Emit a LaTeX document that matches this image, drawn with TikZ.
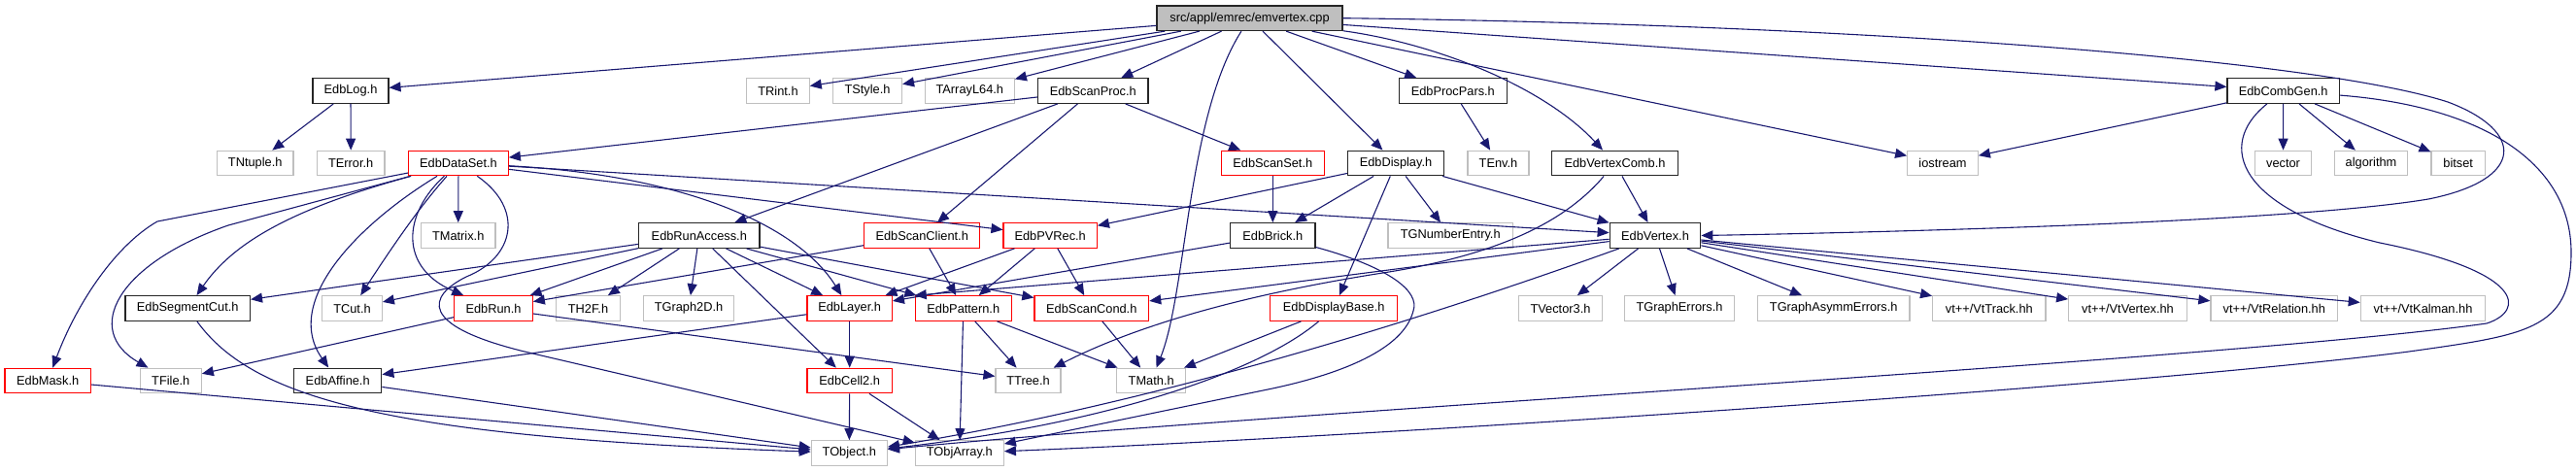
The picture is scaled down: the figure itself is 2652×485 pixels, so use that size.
\documentclass[tikz,border=0pt]{standalone}
\usepackage{fontspec}
\setmainfont{Liberation Sans}
\usepackage{xcolor}
\usepackage{tikz}
\usetikzlibrary{arrows.meta}
\definecolor{edgeblue}{HTML}{191970}
\definecolor{extgray}{HTML}{BFBFBF}
\tikzset{
    hdr/.style={rectangle, line width=1.2pt, minimum height=25.5pt, inner sep=0pt,
        font=\fontsize{12.8}{14}\selectfont},
    docfile/.style={hdr, draw=black!85, line width=1.4pt},
    extfile/.style={hdr, draw=extgray},
    redfile/.style={hdr, draw=red},
    rootfile/.style={hdr, draw=black!85, line width=1.4pt, fill=extgray},
    dep/.style={draw=edgeblue, line width=1.1pt, -{Triangle[length=12pt,width=10pt]}}
}

\begin{document}
\begin{tikzpicture}[x=1pt, y=-1pt]
    \useasboundingbox (0,0) rectangle (2652,485);
    \node[rootfile, minimum width=191] (root) at (1286.5,18.7) {src/appl/emrec/emvertex.cpp};
    % row 1
    \node[docfile, minimum width=77.7] (log) at (361,93.5) {EdbLog.h};
    \node[extfile, minimum width=64.3] (trint) at (801,93.5) {TRint.h};
    \node[extfile, minimum width=71] (tstyle) at (893,93.5) {TStyle.h};
    \node[extfile, minimum width=92] (tarray) at (998.3,93.5) {TArrayL64.h};
    \node[docfile, minimum width=113.3] (scanproc) at (1125.3,93.5) {EdbScanProc.h};
    \node[docfile, minimum width=111] (procpars) at (1495.8,93.5) {EdbProcPars.h};
    \node[docfile, minimum width=115.3] (combgen) at (2350.7,93.5) {EdbCombGen.h};
    % row 2
    \node[extfile, minimum width=78.7] (tntuple) at (262.7,168) {TNtuple.h};
    \node[extfile, minimum width=69.7] (terror) at (361.2,168) {TError.h};
    \node[redfile, minimum width=102.6] (dataset) at (472,168) {EdbDataSet.h};
    \node[redfile, minimum width=106] (scanset) at (1310.3,168) {EdbScanSet.h};
    \node[docfile, minimum width=98.6] (display) at (1437,168) {EdbDisplay.h};
    \node[extfile, minimum width=63] (tenv) at (1542.5,168) {TEnv.h};
    \node[docfile, minimum width=129.6] (vcomb) at (1662.5,168) {EdbVertexComb.h};
    \node[extfile, minimum width=72.6] (iostream) at (2000,168) {iostream};
    \node[extfile, minimum width=57.6] (vector) at (2350.5,168) {vector};
    \node[extfile, minimum width=74.6] (algorithm) at (2441,168) {algorithm};
    \node[extfile, minimum width=55.3] (bitset) at (2530.7,168) {bitset};
    % row 3
    \node[extfile, minimum width=76.7] (tmatrix) at (471.7,242.5) {TMatrix.h};
    \node[docfile, minimum width=124.3] (runaccess) at (719.8,242.5) {EdbRunAccess.h};
    \node[redfile, minimum width=119] (scanclient) at (949.2,242.5) {EdbScanClient.h};
    \node[redfile, minimum width=96.3] (pvrec) at (1081.2,242.5) {EdbPVRec.h};
    \node[docfile, minimum width=87.3] (brick) at (1310.3,242.5) {EdbBrick.h};
    \node[extfile, minimum width=128.3] (tgnum) at (1493.2,242.5) {TGNumberEntry.h};
    \node[docfile, minimum width=93.4] (vertex) at (1704,242.5) {EdbVertex.h};
    % row 4
    \node[docfile, minimum width=128.3] (segcut) at (193.2,317.5) {EdbSegmentCut.h};
    \node[extfile, minimum width=61.6] (tcut) at (362.5,317.5) {TCut.h};
    \node[redfile, minimum width=80.6] (run) at (508,317.5) {EdbRun.h};
    \node[extfile, minimum width=65.6] (th2f) at (605.5,317.5) {TH2F.h};
    \node[extfile, minimum width=93.7] (tgraph2d) at (709,317.5) {TGraph2D.h};
    \node[redfile, minimum width=87.3] (layer) at (874.7,317.5) {EdbLayer.h};
    \node[redfile, minimum width=99] (pattern) at (991.8,317.5) {EdbPattern.h};
    \node[redfile, minimum width=117.7] (scancond) at (1123.8,317.5) {EdbScanCond.h};
    \node[redfile, minimum width=131] (dispbase) at (1373.2,317.5) {EdbDisplayBase.h};
    \node[extfile, minimum width=85.6] (tvector3) at (1606.5,317.5) {TVector3.h};
    \node[extfile, minimum width=112.3] (tgerr) at (1729,317.5) {TGraphErrors.h};
    \node[extfile, minimum width=156.7] (tgasym) at (1887.7,317.5) {TGraphAsymmErrors.h};
    \node[extfile, minimum width=116.3] (vttrack) at (2047.8,317.5) {vt++/VtTrack.hh};
    \node[extfile, minimum width=121.6] (vtvertex) at (2190.5,317.5) {vt++/VtVertex.hh};
    \node[extfile, minimum width=130.7] (vtrel) at (2341.3,317.5) {vt++/VtRelation.hh};
    \node[extfile, minimum width=128.4] (vtkal) at (2494.5,317.5) {vt++/VtKalman.hh};
    % row 5
    \node[redfile, minimum width=88.3] (mask) at (49.2,392) {EdbMask.h};
    \node[extfile, minimum width=63] (tfile) at (175.8,392) {TFile.h};
    \node[docfile, minimum width=90] (affine) at (347.7,392) {EdbAffine.h};
    \node[redfile, minimum width=87.3] (cell2) at (874.7,392) {EdbCell2.h};
    \node[extfile, minimum width=67] (ttree) at (1058.5,392) {TTree.h};
    \node[extfile, minimum width=71] (tmath) at (1185.2,392) {TMath.h};
    % row 6
    \node[extfile, minimum width=78] (tobject) at (874.3,466.5) {TObject.h};
    \node[extfile, minimum width=91] (tobjarray) at (987.8,466.5) {TObjArray.h};

    % source file
    \draw[dep] (root) -- (log);
    \draw[dep] (root) -- (trint);
    \draw[dep] (root) -- (tstyle);
    \draw[dep] (root) -- (tarray);
    \draw[dep] (root) -- (scanproc);
    \draw[dep] (root) .. controls (1222,120) and (1222,300) .. (tmath);
    \draw[dep] (root) -- (display);
    \draw[dep] (root) -- (procpars);
    \draw[dep] (root) .. controls (1480,45) and (1590,90) .. (vcomb);
    \draw[dep] (root) -- (iostream);
    \draw[dep] (root) -- (combgen);
    \draw[dep] (root.east) .. controls (1900,25) and (2380,60) .. (2520,105)
        .. controls (2600,135) and (2600,185) .. (2500,205)
        .. controls (2350,230) and (1900,240) .. (vertex.east);
    % row 1
    \draw[dep] (log) -- (tntuple);
    \draw[dep] (log) -- (terror);
    \draw[dep] (scanproc) -- (dataset);
    \draw[dep] (scanproc) -- (runaccess);
    \draw[dep] (scanproc) -- (scanclient);
    \draw[dep] (scanproc) -- (scanset);
    \draw[dep] (procpars) -- (tenv);
    \draw[dep] (combgen) -- (iostream);
    \draw[dep] (combgen) -- (vector);
    \draw[dep] (combgen) -- (algorithm);
    \draw[dep] (combgen) -- (bitset);
    \draw[dep] (combgen) .. controls (2280,150) and (2305,215) .. (2450,250)
        .. controls (2600,280) and (2600,320) .. (2560,333)
        .. controls (2300,370) and (1300,425) .. (tobject);
    \draw[dep] (combgen) .. controls (2560,110) and (2647,170) .. (2647,260)
        .. controls (2647,340) and (2600,345) .. (2480,362)
        .. controls (2200,398) and (1400,450) .. (tobjarray);
    % row 2
    \draw[dep] (dataset) -- (162,228) .. controls (120,252) and (80,310) .. (mask);
    \draw[dep] (dataset) -- (235,232) .. controls (120,272) and (85,340) .. (tfile);
    \draw[dep] (dataset) .. controls (300,215) and (240,250) .. (segcut);
    \draw[dep] (dataset) .. controls (370,230) and (290,310) .. (affine);
    \draw[dep] (dataset) .. controls (430,215) and (400,260) .. (tcut);
    \draw[dep] (dataset) .. controls (415,220) and (410,275) .. (run);
    \draw[dep] (dataset) -- (tmatrix);
    \draw[dep] (dataset) .. controls (540,215) and (530,265) .. (480,285)
        .. controls (440,305) and (430,335) .. (540,362) -- (tobjarray);
    \draw[dep] (dataset) .. controls (700,180) and (820,230) .. (layer);
    \draw[dep] (dataset) -- (pvrec);
    \draw[dep] (dataset) -- (vertex);
    \draw[dep] (scanset) -- (brick);
    \draw[dep] (display) -- (pvrec);
    \draw[dep] (display) -- (brick);
    \draw[dep] (display) -- (dispbase);
    \draw[dep] (display) -- (tgnum);
    \draw[dep] (display) -- (vertex);
    \draw[dep] (vcomb) -- (vertex);
    \draw[dep] (vcomb) .. controls (1610,230) and (1540,262) .. (1430,280)
        .. controls (1300,300) and (1180,330) .. (ttree);
    % row 3
    \draw[dep] (runaccess) -- (segcut);
    \draw[dep] (runaccess) -- (tcut);
    \draw[dep] (runaccess) -- (run);
    \draw[dep] (runaccess) -- (th2f);
    \draw[dep] (runaccess) -- (tgraph2d);
    \draw[dep] (runaccess) -- (cell2);
    \draw[dep] (runaccess) -- (layer);
    \draw[dep] (runaccess) -- (pattern);
    \draw[dep] (runaccess) -- (scancond);
    \draw[dep] (scanclient) -- (run);
    \draw[dep] (scanclient) -- (pattern);
    \draw[dep] (pvrec) -- (layer);
    \draw[dep] (pvrec) -- (pattern);
    \draw[dep] (pvrec) -- (scancond);
    \draw[dep] (brick) -- (layer);
    \draw[dep] (brick) .. controls (1430,275) and (1462,300) .. (1455,320)
        .. controls (1445,360) and (1380,385) .. (1310,400) -- (tobjarray);
    \draw[dep] (vertex) -- (pattern.north west);
    \draw[dep] (vertex) -- (scancond);
    \draw[dep] (vertex) .. controls (1350,370) and (1100,430) .. (tobject);
    \draw[dep] (vertex) -- (tvector3);
    \draw[dep] (vertex) -- (tgerr);
    \draw[dep] (vertex) -- (tgasym);
    \draw[dep] (vertex) -- (vttrack);
    \draw[dep] (vertex) -- (vtvertex);
    \draw[dep] (vertex) -- (vtrel);
    \draw[dep] (vertex) -- (vtkal);
    % row 4
    \draw[dep] (segcut) .. controls (260,410) and (400,450) .. (tobject);
    \draw[dep] (run) -- (tfile);
    \draw[dep] (run) -- (ttree);
    \draw[dep] (layer) -- (affine);
    \draw[dep] (layer) -- (cell2);
    \draw[dep] (pattern) -- (tobjarray);
    \draw[dep] (pattern) -- (ttree);
    \draw[dep] (pattern) -- (tmath);
    \draw[dep] (scancond) -- (tmath);
    \draw[dep] (dispbase) -- (tmath);
    \draw[dep] (dispbase) .. controls (1300,380) and (1150,435) .. (tobject);
    % row 5
    \draw[dep] (mask) -- (tobject);
    \draw[dep] (affine) -- (tobject);
    \draw[dep] (cell2) -- (tobject);
    \draw[dep] (cell2) -- (tobjarray);
\end{tikzpicture}
\end{document}
